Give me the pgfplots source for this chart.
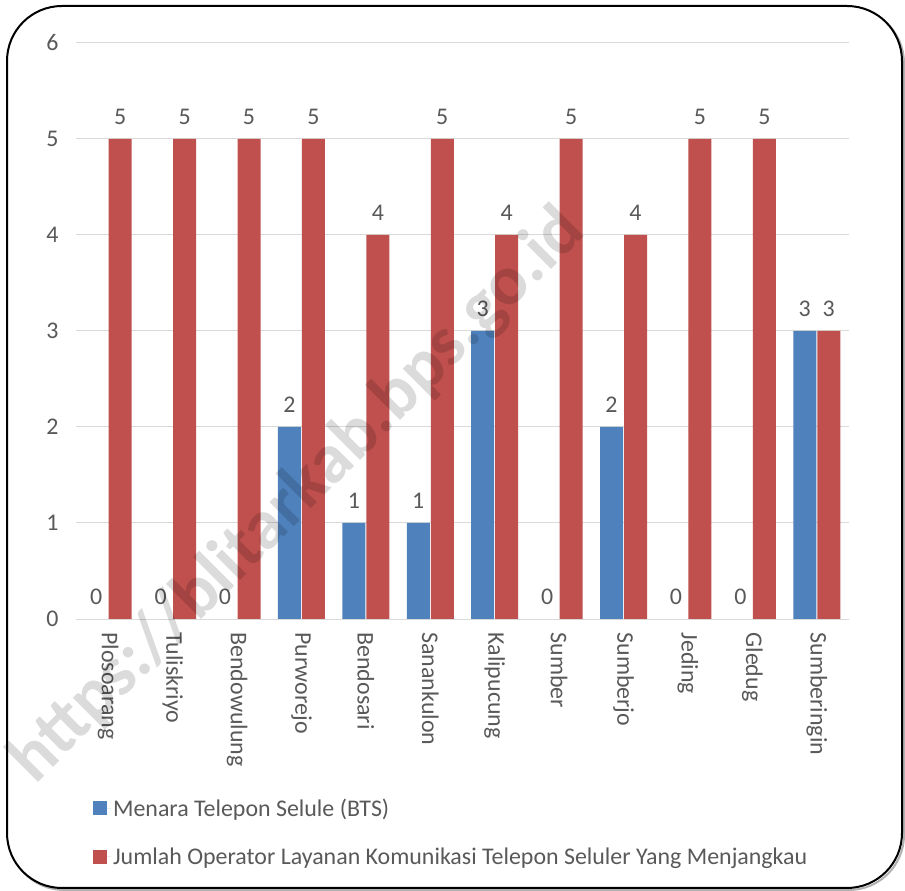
\documentclass[border=0pt]{standalone}
\usepackage{pgfplots}
\pgfplotsset{compat=1.18}
\usepackage{fontspec}
\setmainfont{Carlito}
\definecolor{bblue}{HTML}{4F81BD}
\definecolor{bred}{HTML}{C0504D}
\definecolor{txt}{HTML}{595959}
\definecolor{gridc}{HTML}{D9D9D9}
\begin{document}
\begin{tikzpicture}
\path[use as bounding box] (0,0) rectangle (905bp,891bp);
\draw[line width=2bp, gray!60, rounded corners=55bp] (9bp,1bp) rectangle (904bp,883bp);
\draw[line width=2bp, black, fill=white, rounded corners=55bp] (7bp,3bp) rectangle (902bp,885bp);
\begin{axis}[
  at={(76bp,272bp)}, anchor=south west,
  scale only axis, width=773bp, height=576bp,
  xmin=-0.5, xmax=11.5, ymin=0, ymax=6,
  ybar=1bp, bar width=23bp,
  xtick={0,...,11},
  xticklabels={Plosoarang,Tuliskriyo,Bendowulung,Purworejo,Bendosari,Sanankulon,Kalipucung,Sumber,Sumberjo,Jeding,Gledug,Sumberingin},
  ytick={0,...,6},
  ymajorgrids, grid style={gridc, line width=1bp},
  axis x line*=bottom, axis y line*=left,
  y axis line style={draw=none},
  x axis line style={gridc, line width=1bp},
  major tick length=0pt,
  tick label style={font=\fontsize{24}{28}\selectfont, text=txt},
  x tick label style={rotate=-90, anchor=west},
  xticklabel shift=10bp,
  yticklabel shift=14bp,
  /pgf/number format/assume math mode=true,
  nodes near coords,
  nodes near coords style={font=\fontsize{24}{28}\selectfont, text=txt, yshift=11bp},
  legend style={at={(0.018,-0.305)}, anchor=north west, draw=none, fill=none,
    font=\fontsize{24}{28}\selectfont, text=txt, row sep=26bp},
  legend cell align=left,
  legend image code/.code={\fill[#1, draw=none] (0bp,-7bp) rectangle (14bp,7bp); \path (0bp,0bp) -- (18bp,0bp);},
]
\addplot[fill=bblue, draw=none] coordinates {(0,0) (1,0) (2,0) (3,2) (4,1) (5,1) (6,3) (7,0) (8,2) (9,0) (10,0) (11,3)};
\addplot[fill=bred, draw=none] coordinates {(0,5) (1,5) (2,5) (3,5) (4,4) (5,5) (6,4) (7,5) (8,4) (9,5) (10,5) (11,3)};
\legend{Menara Telepon Selule (BTS), Jumlah Operator Layanan Komunikasi Telepon Seluler Yang Menjangkau}
\end{axis}
\node[rotate=45, font=\bfseries\fontsize{71}{80}\selectfont, text=black, opacity=0.14] at (298bp,395bp) {https://blitarkab.bps.go.id};
\end{tikzpicture}
\end{document}
